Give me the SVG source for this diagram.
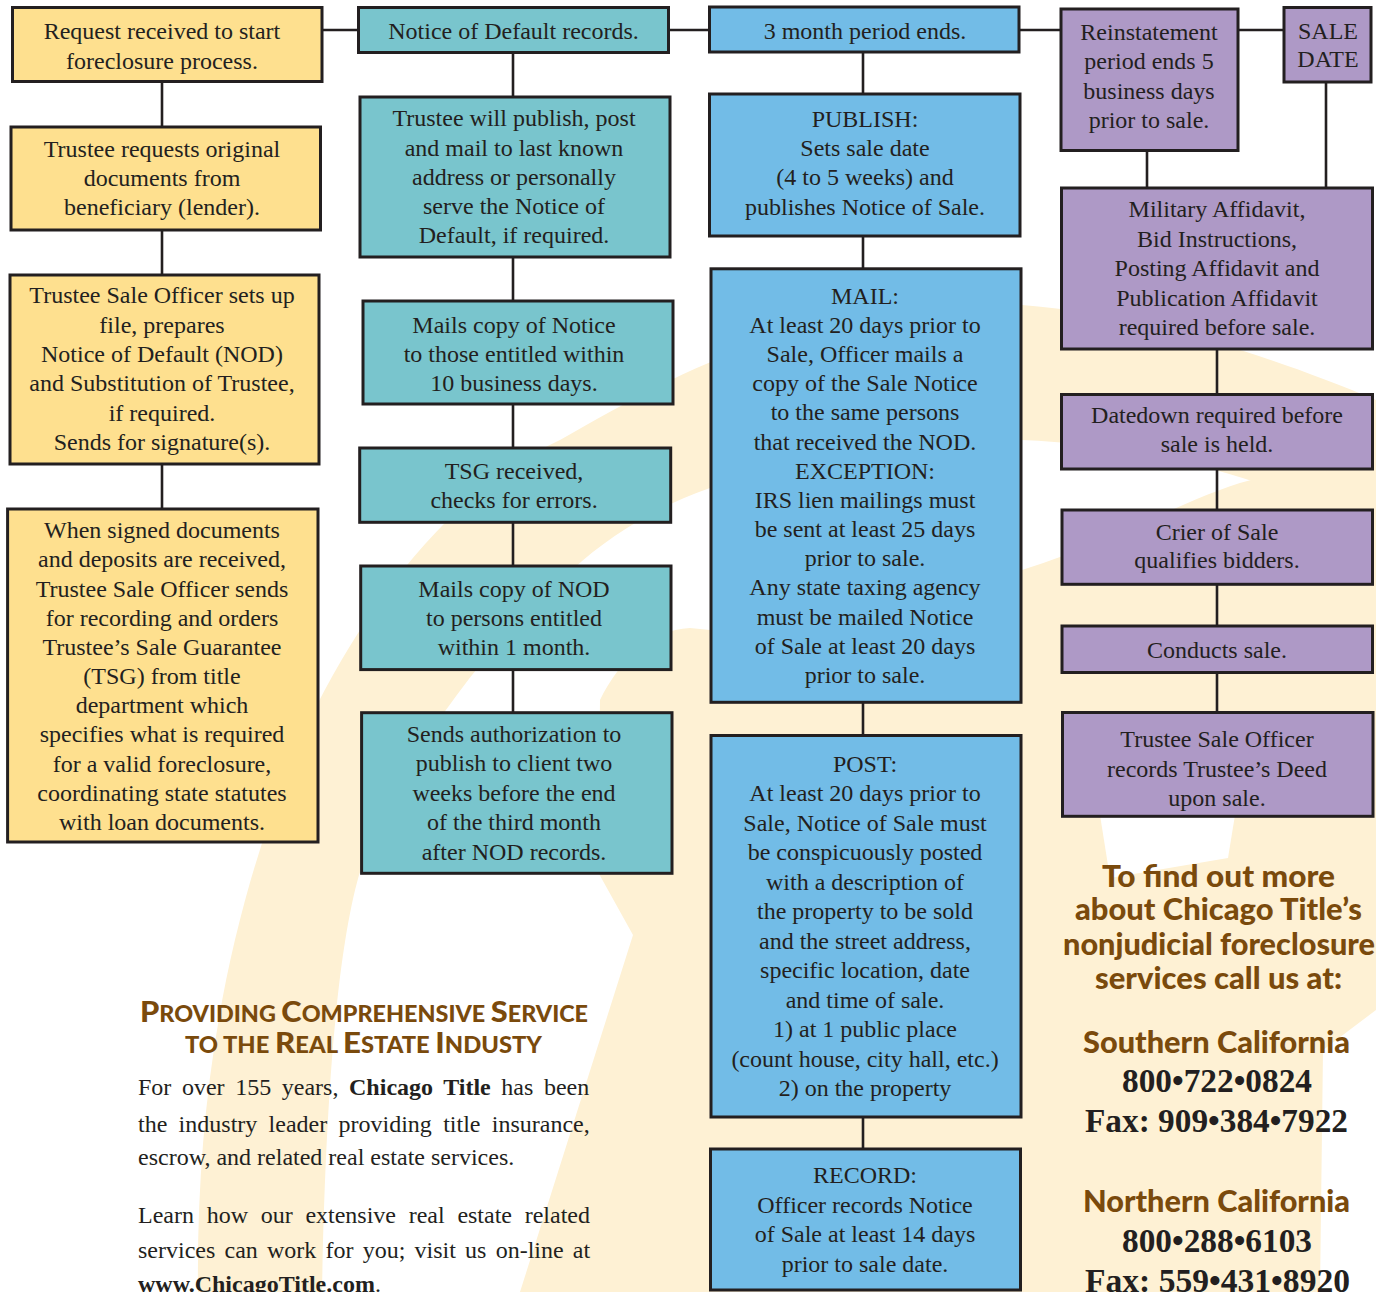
<svg xmlns="http://www.w3.org/2000/svg" width="1376" height="1292" viewBox="0 0 1376 1292">
<style>
.box{stroke:#231F20;stroke-width:3}
.y{fill:#FEE08F}.t{fill:#79C5CD}.b{fill:#72BCE7}.p{fill:#AE99C6}
.lbl{font-family:"Liberation Serif","Times New Roman",serif;font-size:24px;fill:#231F20;text-anchor:middle}
.con{stroke:#231F20;stroke-width:2.6;fill:none}
.bg{fill:#FEF1D4}
.brown{font-family:Lato,"Open Sans",sans-serif;font-weight:900;fill:#7A4A0C}
.num{font-family:"Liberation Serif","Times New Roman",serif;font-weight:bold;fill:#231F20;font-size:34px}
.body{font-family:"Liberation Serif","Times New Roman",serif;font-size:24px;fill:#231F20}
</style>
<rect width="1376" height="1292" fill="#FFFFFF"/>
<g id="background">
<path class="bg" d="M 198,1292 C 196,1100 225,920 300,740 C 360,610 450,490 560,440 C 640,395 700,360 800,330 C 900,305 960,300 1022,305 C 1150,315 1280,360 1376,400 L 1376,535 C 1280,480 1150,445 1022,440 C 900,440 790,462 710,488 C 660,505 610,535 573,569 C 480,650 400,760 359,875 C 335,960 325,1120 322,1292 Z"/>
<path class="bg" d="M 520,1292 L 633,935 L 598,872 L 600,700 C 620,660 650,630 690,628 L 710,630 C 800,610 920,580 1022,570 C 1120,540 1200,490 1260,478 C 1310,470 1350,470 1376,470 L 1376,1010 L 1323,1050 L 1320,1292 Z"/>
<polygon fill="#FFFFFF" points="1100,815 1235,815 1228,858 1110,878"/>
</g>
<g id="connectors">
<line class="con" x1="322" y1="30" x2="358.5" y2="30"/>
<line class="con" x1="668.5" y1="30" x2="709.5" y2="30"/>
<line class="con" x1="1019" y1="30" x2="1061" y2="30"/>
<line class="con" x1="1238" y1="30" x2="1284" y2="30"/>
<line class="con" x1="162" y1="81.5" x2="162" y2="127"/>
<line class="con" x1="162" y1="230" x2="162" y2="275"/>
<line class="con" x1="162" y1="464" x2="162" y2="509"/>
<line class="con" x1="513" y1="52.5" x2="513" y2="97"/>
<line class="con" x1="513" y1="257" x2="513" y2="301"/>
<line class="con" x1="513" y1="404" x2="513" y2="448"/>
<line class="con" x1="513" y1="522" x2="513" y2="566"/>
<line class="con" x1="513" y1="669.6" x2="513" y2="712.7"/>
<line class="con" x1="863" y1="52" x2="863" y2="94"/>
<line class="con" x1="863" y1="236" x2="863" y2="268.8"/>
<line class="con" x1="863" y1="702.3" x2="863" y2="735.5"/>
<line class="con" x1="863" y1="1117" x2="863" y2="1149"/>
<line class="con" x1="1147" y1="150.5" x2="1147" y2="188"/>
<line class="con" x1="1326" y1="82" x2="1326" y2="188"/>
<line class="con" x1="1217" y1="349" x2="1217" y2="394.5"/>
<line class="con" x1="1217" y1="469" x2="1217" y2="510"/>
<line class="con" x1="1217" y1="584.3" x2="1217" y2="626"/>
<line class="con" x1="1217" y1="672.5" x2="1217" y2="712.5"/>
</g>
<g id="n_request">
<rect class="box y" x="12.5" y="7.5" width="309.5" height="74"/>
<text class="lbl"><tspan x="162" y="39">Request received to start</tspan><tspan x="162" y="69">foreclosure process.</tspan></text>
</g>
<g id="n_trustee_requests">
<rect class="box y" x="11" y="127" width="309.5" height="103"/>
<text class="lbl"><tspan x="162" y="157">Trustee requests original</tspan><tspan x="162" y="186">documents from</tspan><tspan x="162" y="215">beneficiary (lender).</tspan></text>
</g>
<g id="n_sets_up">
<rect class="box y" x="10" y="275" width="309" height="189"/>
<text class="lbl"><tspan x="162" y="303">Trustee Sale Officer sets up</tspan><tspan x="162" y="333">file, prepares</tspan><tspan x="162" y="362">Notice of Default (NOD)</tspan><tspan x="162" y="391">and Substitution of Trustee,</tspan><tspan x="162" y="421">if required.</tspan><tspan x="162" y="450">Sends for signature(s).</tspan></text>
</g>
<g id="n_signed">
<rect class="box y" x="7.6" y="509" width="310.4" height="333"/>
<text class="lbl"><tspan x="162" y="538">When signed documents</tspan><tspan x="162" y="567">and deposits are received,</tspan><tspan x="162" y="597">Trustee Sale Officer sends</tspan><tspan x="162" y="626">for recording and orders</tspan><tspan x="162" y="655">Trustee’s Sale Guarantee</tspan><tspan x="162" y="684">(TSG) from title</tspan><tspan x="162" y="713">department which</tspan><tspan x="162" y="742">specifies what is required</tspan><tspan x="162" y="772">for a valid foreclosure,</tspan><tspan x="162" y="801">coordinating state statutes</tspan><tspan x="162" y="830">with loan documents.</tspan></text>
</g>
<g id="n_nod_records">
<rect class="box t" x="358.5" y="7.5" width="310" height="45"/>
<text class="lbl"><tspan x="513.5" y="38.5">Notice of Default records.</tspan></text>
</g>
<g id="n_publish_post_mail">
<rect class="box t" x="360" y="97" width="310" height="160"/>
<text class="lbl"><tspan x="514" y="126">Trustee will publish, post</tspan><tspan x="514" y="155.5">and mail to last known</tspan><tspan x="514" y="185">address or personally</tspan><tspan x="514" y="214">serve the Notice of</tspan><tspan x="514" y="243">Default, if required.</tspan></text>
</g>
<g id="n_mails_notice">
<rect class="box t" x="363" y="301" width="310" height="103"/>
<text class="lbl"><tspan x="514" y="332.6">Mails copy of Notice</tspan><tspan x="514" y="361.6">to those entitled within</tspan><tspan x="514" y="390.6">10 business days.</tspan></text>
</g>
<g id="n_tsg">
<rect class="box t" x="359.7" y="448" width="311" height="74.3"/>
<text class="lbl"><tspan x="514" y="478.6">TSG received,</tspan><tspan x="514" y="508">checks for errors.</tspan></text>
</g>
<g id="n_mails_nod">
<rect class="box t" x="360.7" y="566" width="310.3" height="103.6"/>
<text class="lbl"><tspan x="514" y="596.7">Mails copy of NOD</tspan><tspan x="514" y="626">to persons entitled</tspan><tspan x="514" y="655">within 1 month.</tspan></text>
</g>
<g id="n_authorization">
<rect class="box t" x="361.6" y="712.7" width="310.4" height="160.6"/>
<text class="lbl"><tspan x="514" y="741.7">Sends authorization to</tspan><tspan x="514" y="771">publish to client two</tspan><tspan x="514" y="800.6">weeks before the end</tspan><tspan x="514" y="830">of the third month</tspan><tspan x="514" y="860">after NOD records.</tspan></text>
</g>
<g id="n_3month">
<rect class="box b" x="709.5" y="7" width="309.5" height="45"/>
<text class="lbl"><tspan x="865" y="38.5">3 month period ends.</tspan></text>
</g>
<g id="n_publish">
<rect class="box b" x="709.5" y="94" width="310.5" height="142"/>
<text class="lbl"><tspan x="865" y="126.7">PUBLISH:</tspan><tspan x="865" y="156">Sets sale date</tspan><tspan x="865" y="185">(4 to 5 weeks) and</tspan><tspan x="865" y="215">publishes Notice of Sale.</tspan></text>
</g>
<g id="n_mail">
<rect class="box b" x="711" y="268.8" width="310" height="433.5"/>
<text class="lbl"><tspan x="865" y="303.6">MAIL:</tspan><tspan x="865" y="332.8">At least 20 days prior to</tspan><tspan x="865" y="362">Sale, Officer mails a</tspan><tspan x="865" y="391.2">copy of the Sale Notice</tspan><tspan x="865" y="420.3">to the same persons</tspan><tspan x="865" y="449.5">that received the NOD.</tspan><tspan x="865" y="478.7">EXCEPTION:</tspan><tspan x="865" y="507.9">IRS lien mailings must</tspan><tspan x="865" y="537.1">be sent at least 25 days</tspan><tspan x="865" y="566.2">prior to sale.</tspan><tspan x="865" y="595.4">Any state taxing agency</tspan><tspan x="865" y="624.6">must be mailed Notice</tspan><tspan x="865" y="653.8">of Sale at least 20 days</tspan><tspan x="865" y="683">prior to sale.</tspan></text>
</g>
<g id="n_post">
<rect class="box b" x="711" y="735.5" width="310" height="381.5"/>
<text class="lbl"><tspan x="865" y="771.7">POST:</tspan><tspan x="865" y="801.2">At least 20 days prior to</tspan><tspan x="865" y="830.7">Sale, Notice of Sale must</tspan><tspan x="865" y="860.3">be conspicuously posted</tspan><tspan x="865" y="889.8">with a description of</tspan><tspan x="865" y="919.3">the property to be sold</tspan><tspan x="865" y="948.8">and the street address,</tspan><tspan x="865" y="978.3">specific location, date</tspan><tspan x="865" y="1007.9">and time of sale.</tspan><tspan x="865" y="1037.4">1) at 1 public place</tspan><tspan x="865" y="1066.9">(count house, city hall, etc.)</tspan><tspan x="865" y="1096.4">2) on the property</tspan></text>
</g>
<g id="n_record">
<rect class="box b" x="710.5" y="1149" width="310" height="141"/>
<text class="lbl"><tspan x="865" y="1183.2">RECORD:</tspan><tspan x="865" y="1212.8">Officer records Notice</tspan><tspan x="865" y="1242.4">of Sale at least 14 days</tspan><tspan x="865" y="1272">prior to sale date.</tspan></text>
</g>
<g id="n_reinstatement">
<rect class="box p" x="1061" y="9" width="177" height="141.5"/>
<text class="lbl"><tspan x="1149" y="40">Reinstatement</tspan><tspan x="1149" y="69.3">period ends 5</tspan><tspan x="1149" y="98.6">business days</tspan><tspan x="1149" y="127.5">prior to sale.</tspan></text>
</g>
<g id="n_sale_date">
<rect class="box p" x="1284" y="7.5" width="87" height="74.5"/>
<text class="lbl"><tspan x="1328" y="38.5">SALE</tspan><tspan x="1328" y="67">DATE</tspan></text>
</g>
<g id="n_affidavits">
<rect class="box p" x="1061.5" y="188" width="311" height="161"/>
<text class="lbl"><tspan x="1217" y="217.3">Military Affidavit,</tspan><tspan x="1217" y="246.7">Bid Instructions,</tspan><tspan x="1217" y="276.3">Posting Affidavit and</tspan><tspan x="1217" y="305.8">Publication Affidavit</tspan><tspan x="1217" y="335">required before sale.</tspan></text>
</g>
<g id="n_datedown">
<rect class="box p" x="1061.5" y="394.5" width="311" height="74.5"/>
<text class="lbl"><tspan x="1217" y="423.3">Datedown required before</tspan><tspan x="1217" y="452">sale is held.</tspan></text>
</g>
<g id="n_crier">
<rect class="box p" x="1062" y="510" width="310.5" height="74.3"/>
<text class="lbl"><tspan x="1217" y="540">Crier of Sale</tspan><tspan x="1217" y="568.3">qualifies bidders.</tspan></text>
</g>
<g id="n_conducts">
<rect class="box p" x="1062" y="626" width="310.5" height="46.5"/>
<text class="lbl"><tspan x="1217" y="657.7">Conducts sale.</tspan></text>
</g>
<g id="n_deed">
<rect class="box p" x="1062.5" y="712.5" width="310.5" height="103.8"/>
<text class="lbl"><tspan x="1217" y="747">Trustee Sale Officer</tspan><tspan x="1217" y="776.5">records Trustee’s Deed</tspan><tspan x="1217" y="805.7">upon sale.</tspan></text>
</g>
<g id="contact">
<text class="brown" font-size="30" x="1102" y="886.7" textLength="233" lengthAdjust="spacingAndGlyphs">To find out more</text>
<text class="brown" font-size="30" x="1075" y="920" textLength="287" lengthAdjust="spacingAndGlyphs">about Chicago Title’s</text>
<text class="brown" font-size="30" x="1063" y="955" textLength="312" lengthAdjust="spacingAndGlyphs">nonjudicial foreclosure</text>
<text class="brown" font-size="30" x="1095" y="989" textLength="247" lengthAdjust="spacingAndGlyphs">services call us at:</text>
<text class="brown" font-size="31" x="1083" y="1053.3" textLength="267" lengthAdjust="spacingAndGlyphs">Southern California</text>
<text class="num" x="1122" y="1091.7" textLength="190" lengthAdjust="spacingAndGlyphs">800•722•0824</text>
<text class="num" x="1085" y="1131.7" textLength="263" lengthAdjust="spacingAndGlyphs">Fax: 909•384•7922</text>
<text class="brown" font-size="31" x="1083" y="1211.7" textLength="267" lengthAdjust="spacingAndGlyphs">Northern California</text>
<text class="num" x="1122" y="1251.7" textLength="190" lengthAdjust="spacingAndGlyphs">800•288•6103</text>
<text class="num" x="1085" y="1291.7" textLength="265" lengthAdjust="spacingAndGlyphs">Fax: 559•431•8920</text>
</g>
<g id="about">
<text class="brown" font-size="22" x="140" y="1022" textLength="448" lengthAdjust="spacingAndGlyphs"><tspan font-size="29">P</tspan>ROVIDING <tspan font-size="29">C</tspan>OMPREHENSIVE <tspan font-size="29">S</tspan>ERVICE</text>
<text class="brown" font-size="22" x="185" y="1053" textLength="357" lengthAdjust="spacingAndGlyphs">TO THE <tspan font-size="29">R</tspan>EAL <tspan font-size="29">E</tspan>STATE <tspan font-size="29">I</tspan>NDUSTY</text>
<text class="body" x="138" y="1095" word-spacing="4.6">For over 155 years, <tspan font-weight="bold">Chicago Title</tspan> has been</text>
<text class="body" x="138" y="1131.7" word-spacing="5.3">the industry leader providing title insurance,</text>
<text class="body" x="138" y="1165">escrow, and related real estate services.</text>
<text class="body" x="138" y="1223.3" word-spacing="6.7">Learn how our extensive real estate related</text>
<text class="body" x="138" y="1258.3" word-spacing="3.2">services can work for you; visit us on-line at</text>
<text class="body" x="138" y="1291.7"><tspan font-weight="bold">www.ChicagoTitle.com</tspan>.</text>
</g>
</svg>
